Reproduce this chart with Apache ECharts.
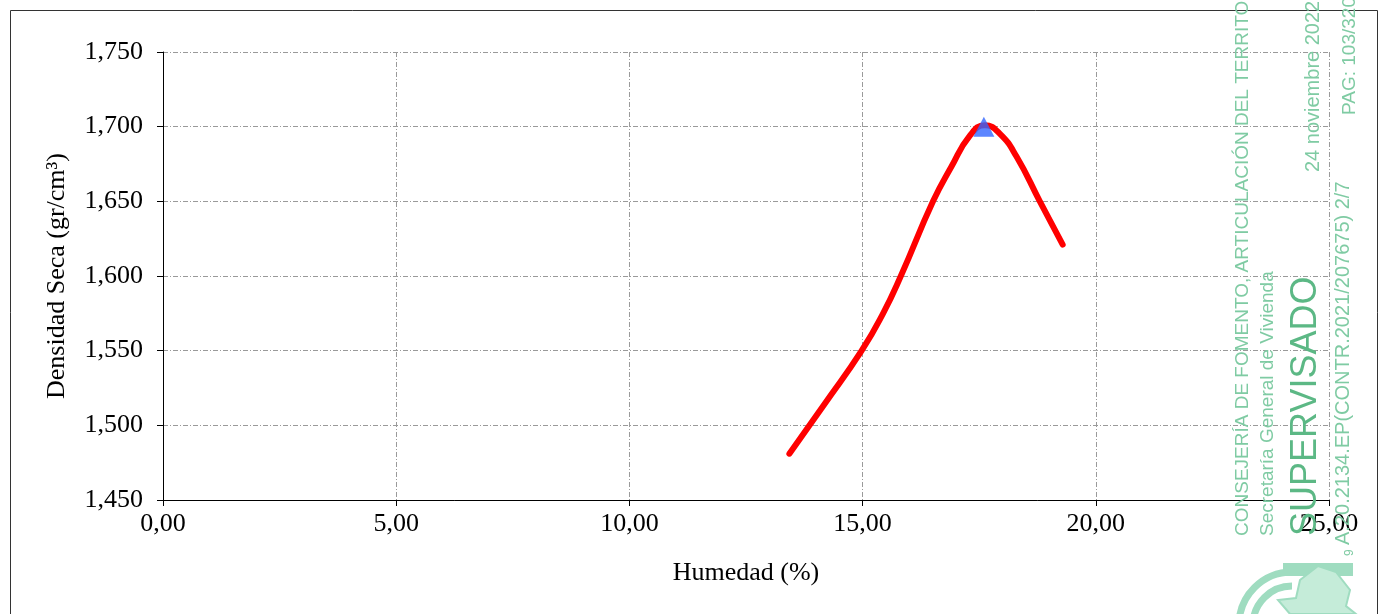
<!DOCTYPE html>
<html>
<head>
<meta charset="utf-8">
<title>Densidad Seca - Humedad</title>
<script src="https://cdn.jsdelivr.net/npm/echarts@6/dist/echarts.min.js"></script>
<style>
  html, body { margin: 0; padding: 0; background: #fff; }
  #chart { width: 1384px; height: 614px; }
</style>
</head>
<body>
<div id="chart"></div>
<script>
// curva de compactación (humedad %, densidad seca gr/cm3)
const humedad = [13.43, 14.20, 14.98, 15.44, 15.82, 16.51, 16.90, 17.30, 17.62, 17.95, 18.30, 18.80, 19.29];
const densidad = [1.481, 1.515, 1.550, 1.575, 1.600, 1.650, 1.673, 1.694, 1.701, 1.695, 1.680, 1.650, 1.621];
// punto óptimo
const optimoHumedad = [17.60];
const optimoDensidad = [1.700];
// ejes
const xTicks = [0, 5, 10, 15, 20, 25];
const yTicks = [1.45, 1.50, 1.55, 1.60, 1.65, 1.70, 1.75];

const green = "#7fcba3";
const serif = "Liberation Serif";
const gridStyle = { color: "#9a9a9a", width: 1, type: [5, 2, 1, 2] };

const myChart = echarts.init(document.getElementById("chart"));

// sello lateral (texto vertical)
function vText(text, x, y, size, color) {
  return {
    type: "text",
    x: x,
    y: y,
    rotation: Math.PI / 2,
    silent: true,
    z: 100,
    style: {
      text: text,
      fill: color,
      font: size + "px 'Liberation Sans', Arial, sans-serif",
      align: "left",
      verticalAlign: "middle"
    }
  };
}

myChart.setOption({
  animation: false,
  grid: { left: 163, right: 55, top: 52, bottom: 114 },
  xAxis: {
    type: "value",
    min: xTicks[0],
    max: xTicks[xTicks.length - 1],
    interval: xTicks[1] - xTicks[0],
    name: "Humedad (%)",
    nameLocation: "middle",
    nameGap: 60,
    nameTextStyle: { fontFamily: serif, fontSize: 26, color: "#000" },
    axisLine: { show: true, onZero: false, lineStyle: { color: "#000", width: 1 } },
    axisTick: { show: true, length: 6, lineStyle: { color: "#000" } },
    axisLabel: {
      margin: 11,
      fontFamily: serif,
      fontSize: 26,
      color: "#000",
      formatter: v => v.toFixed(2).replace(".", ",")
    },
    splitLine: { show: true, lineStyle: gridStyle }
  },
  yAxis: {
    type: "value",
    min: yTicks[0],
    max: yTicks[yTicks.length - 1],
    interval: 0.05,
    name: "Densidad Seca (gr/cm³)",
    nameLocation: "middle",
    nameGap: 93,
    nameRotate: 90,
    nameTextStyle: { fontFamily: serif, fontSize: 26, color: "#000" },
    axisLine: { show: true, onZero: false, lineStyle: { color: "#000", width: 1 } },
    axisTick: { show: true, length: 6, lineStyle: { color: "#000" } },
    axisLabel: {
      margin: 20,
      fontFamily: serif,
      fontSize: 26,
      color: "#000",
      formatter: v => v.toFixed(3).replace(".", ",")
    },
    splitLine: { show: true, lineStyle: gridStyle }
  },
  series: [
    {
      type: "line",
      data: humedad.map((h, i) => [h, densidad[i]]),
      smooth: 0.5,
      showSymbol: false,
      lineStyle: { color: "#ff0000", width: 6, cap: "round", join: "round" },
      z: 3
    },
    {
      type: "scatter",
      data: optimoHumedad.map((h, i) => [h, optimoDensidad[i]]),
      symbol: "triangle",
      symbolSize: [21, 20],
      itemStyle: { color: "#3366ff" },
      z: 4
    }
  ],
  graphic: [
    // marco exterior
    {
      type: "rect",
      shape: { x: 10.5, y: 10.5, width: 1367, height: 640 },
      style: { fill: "none", stroke: "#333", lineWidth: 1 },
      silent: true,
      z: 0
    },
    vText("CONSEJERÍA DE FOMENTO, ARTICULACIÓN DEL TERRITORIO", 1243, 536, 19, green),
    vText("Secretaría General de Vivienda", 1268, 536, 19, green),
    vText("SUPERVISADO", 1306, 536, 36, "#5cb885"),
    vText("24 noviembre 2022", 1313, 172, 20, green),
    vText("A.20.2134.EP(CONTR.2021/207675) 2/7", 1343, 545, 20, green),
    vText("PAG: 103/320", 1350, 115, 19, green),
    vText("9", 1350, 556, 12, green),
    // logotipo
    {
      type: "arc",
      shape: { cx: 1292, cy: 625, r: 53, startAngle: Math.PI, endAngle: Math.PI * 1.5 },
      style: { stroke: "#9fdcc0", lineWidth: 7, fill: "none" },
      silent: true
    },
    {
      type: "arc",
      shape: { cx: 1292, cy: 625, r: 39, startAngle: Math.PI, endAngle: Math.PI * 1.5 },
      style: { stroke: "#9fdcc0", lineWidth: 7, fill: "none" },
      silent: true
    },
    {
      type: "rect",
      shape: { x: 1283, y: 563, width: 70, height: 13 },
      style: { fill: "#9fdcc0" },
      silent: true
    },
    {
      type: "polygon",
      shape: { points: [[1300, 580], [1318, 566], [1336, 572], [1350, 590], [1346, 606], [1356, 614], [1290, 614], [1278, 600], [1296, 598]] },
      style: { fill: "#c5ecd9", stroke: "#9fdcc0", lineWidth: 2 },
      silent: true
    }
  ]
});

window.addEventListener("resize", () => {
  myChart.resize();
});
</script>
</body>
</html>
